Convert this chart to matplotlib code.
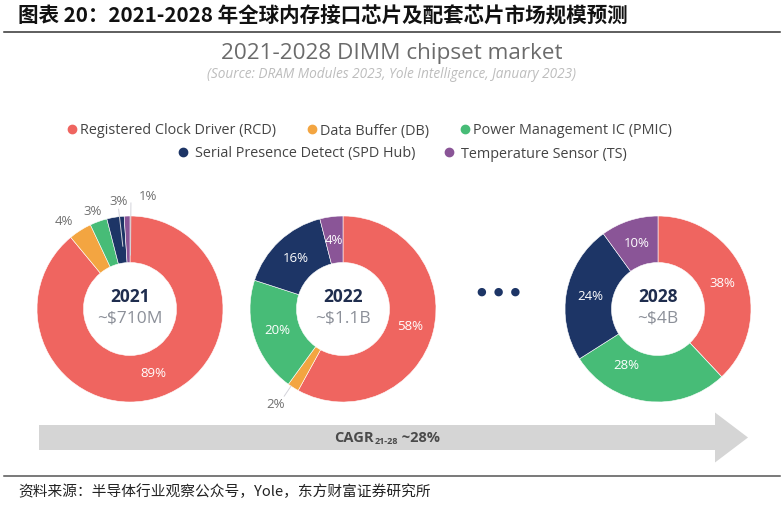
import matplotlib
matplotlib.use("Agg")
import numpy as np
import matplotlib.pyplot as plt
from matplotlib.lines import Line2D
from matplotlib.patches import FancyArrow

plt.rcParams['font.family'] = ['Open Sans', 'DejaVu Sans']
CJK = ['Noto Sans CJK SC', 'DejaVu Sans']

# ---- data ----
segments = ["Registered Clock Driver (RCD)", "Data Buffer (DB)",
            "Power Management IC (PMIC)", "Serial Presence Detect (SPD Hub)",
            "Temperature Sensor (TS)"]
seg_colors = ["#EF6560", "#F3A541", "#47BC77", "#1D3566", "#8A5597"]

years = ["2021", "2022", "2028"]
market = ["~$710M", "~$1.1B", "~$4B"]
share_2021 = [89, 4, 3, 3, 1]
share_2022 = [58, 2, 20, 16, 4]
share_2028 = [38, 0, 28, 24, 10]
shares = [share_2021, share_2022, share_2028]
cagr = "~28%"

header = "图表 20：2021-2028 年全球内存接口芯片及配套芯片市场规模预测"
chart_title = "2021-2028 DIMM chipset market"
chart_source = "(Source: DRAM Modules 2023, Yole Intelligence, January 2023)"
footer = "资料来源：半导体行业观察公众号，Yole，东方财富证券研究所"

# ---- layout (pixels, y measured from top) ----
W, H = 784, 505
centers = [(130, 309), (343, 309), (658, 309)]
R = 93
HOLE = 0.5
# labels placed outside the ring: (donut, segment) -> (radius factor, angle)
outside = {(0, 1): (1.18, 127), (0, 2): (1.12, 111), (0, 3): (1.16, 96),
           (0, 4): (1.22, 81), (1, 1): (1.26, 235)}
# small nudges for inside labels: (donut, segment) -> (radius factor, angle)
inside_fix = {(2, 2): (0.70, 241)}
# leader lines: (donut, segment) -> (r from, r to, angle)
leaders = {(0, 3): (0.68, 1.08, 96.5), (0, 4): (0.58, 1.14, 89.5),
           (1, 1): (1.0, 1.13, 236)}


def Y(y):
    return H - y


fig = plt.figure(figsize=(W / 100, H / 100), dpi=100)
ax = fig.add_axes([0, 0, 1, 1])

for i, vals in enumerate(shares):
    cx, cy = centers[i]
    wedges, _ = ax.pie(vals, colors=seg_colors, radius=R, center=(cx, Y(cy)),
                       startangle=90, counterclock=False,
                       wedgeprops=dict(width=HOLE * R, edgecolor='white', linewidth=0.4))
    for j, (w, v) in enumerate(zip(wedges, vals)):
        if v == 0:
            continue
        mid = (w.theta1 + w.theta2) / 2
        if (i, j) in outside:
            rf, ang = outside[(i, j)]
            col = '#707070'
        else:
            rf, ang = inside_fix.get((i, j), (0.74, mid))
            col = 'white'
        a = np.deg2rad(ang)
        ax.text(cx + rf * R * np.cos(a), Y(cy) + rf * R * np.sin(a), f"{v}%",
                ha='center', va='center', fontsize=9.5, color=col)
        if (i, j) in leaders:
            r0, r1, la = leaders[(i, j)]
            la = np.deg2rad(la)
            ax.plot([cx + r0 * R * np.cos(la), cx + r1 * R * np.cos(la)],
                    [Y(cy) + r0 * R * np.sin(la), Y(cy) + r1 * R * np.sin(la)],
                    color='#D3D3DA', lw=0.7)
    ax.text(cx, Y(cy - 12), years[i], ha='center', va='center', fontsize=12.5,
            fontweight='bold', color='#1F2D4E')
    ax.text(cx, Y(cy + 9), market[i], ha='center', va='center', fontsize=12.5,
            color='#8C9099')

# ellipsis between 2022 and 2028
ax.text(499, Y(292), "\u25CF  \u25CF  \u25CF", ha='center', va='center',
        fontsize=8, color='#1D3566', family='DejaVu Sans')

# growth arrow
ax.add_patch(FancyArrow(39, Y(437.5), 709, 0, width=25, head_width=50,
                        head_length=33, length_includes_head=True,
                        color='#D5D5D5', lw=0))
t1 = ax.text(334, Y(438), "CAGR", ha='left', va='center', fontsize=10.5,
             fontweight='bold', color='#4A4A4A')
t2 = ax.annotate("21-28", xy=(1, 0.25), xycoords=t1, xytext=(0.5, 0),
                 textcoords='offset points', ha='left', va='center',
                 fontsize=6.5, fontweight='bold', color='#4A4A4A')
sub_w = t2.get_window_extent(fig.canvas.get_renderer()).width * 0.72
ax.annotate(" " + cagr, xy=(1, 0.5), xycoords=t1, xytext=(sub_w + 1, 0),
            textcoords='offset points', ha='left', va='center', fontsize=10.5,
            fontweight='bold', color='#4A4A4A')

# titles
ax.text(392, Y(53), chart_title, ha='center', va='center', fontsize=16.2,
        color='#6B6B6B')
ax.text(392, Y(75), chart_source, ha='center', va='center', fontsize=9.8,
        style='italic', color='#BDBDBD')

# legend in two centred rows
handles = [Line2D([], [], ls='', marker='o', ms=6, mfc=c, mec=c) for c in seg_colors]
leg1 = ax.legend(handles[:3], segments[:3], ncol=3, loc='center',
                 bbox_to_anchor=(368 / W, 1 - 131 / H), frameon=False,
                 fontsize=10.4, handletextpad=0.05, columnspacing=2.0,
                 handlelength=1.0, labelcolor='#444444')
ax.add_artist(leg1)
ax.legend(handles[3:], segments[3:], ncol=2, loc='center',
          bbox_to_anchor=(401 / W, 1 - 154 / H), frameon=False,
          fontsize=10.4, handletextpad=0.35, columnspacing=1.8,
          handlelength=1.0, labelcolor='#444444')

# report header and footer
ax.text(18, Y(16), header, ha='left', va='center', fontsize=14.8,
        fontweight='bold', family=CJK, color='#111111')
ax.plot([4, 780], [Y(32), Y(32)], color='#333333', lw=1.1)
ax.plot([4, 780], [Y(476), Y(476)], color='#555555', lw=1.1)
ax.text(18, Y(492), footer, ha='left', va='center', fontsize=10.6,
        family=CJK, color='#222222')

ax.set_xlim(0, W)
ax.set_ylim(0, H)
ax.set_aspect('auto')
ax.axis('off')

fig.savefig("out.png", dpi=100, facecolor='white')
